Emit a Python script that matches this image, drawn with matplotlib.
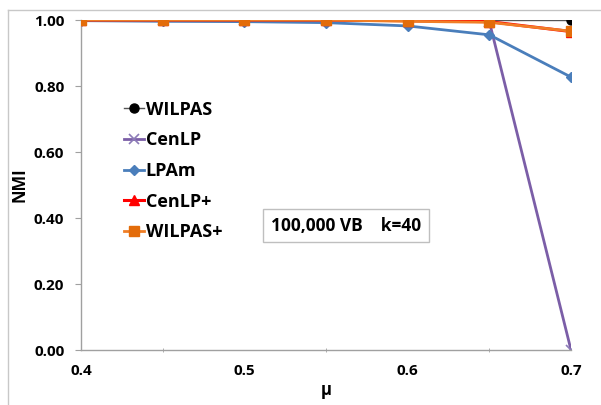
import matplotlib
matplotlib.use("Agg")
import matplotlib.pyplot as plt
from matplotlib.lines import Line2D

mu = [0.4, 0.45, 0.5, 0.55, 0.6, 0.65, 0.7]
wilpas = [1.0, 1.0, 1.0, 1.0, 1.0, 1.0, 1.0]
cenlp = [1.0, 1.0, 1.0, 1.0, 0.998, 0.995, 0.0]
lpam = [0.998, 0.996, 0.995, 0.992, 0.982, 0.955, 0.827]
cenlp_plus = [1.0, 1.0, 1.0, 1.0, 0.998, 0.995, 0.965]
wilpas_plus = [1.0, 1.0, 1.0, 1.0, 0.996, 0.993, 0.966]
xticks = [0.4, 0.5, 0.6, 0.7]
yticks = [0.0, 0.2, 0.4, 0.6, 0.8, 1.0]

plt.rcParams['font.family'] = ['Open Sans', 'DejaVu Sans']
plt.rcParams['font.weight'] = 'bold'

fig = plt.figure(figsize=(6.01, 4.05), dpi=100)
ax = fig.add_axes([81/601, 55/405, 490/601, 330/405])

ax.plot(mu, wilpas, color='#555555', lw=1.0, marker='o', ms=6.5, mfc='black', mec='black', label='WILPAS', zorder=3)
ax.plot(mu, cenlp, color='#7B5EA7', lw=2.0, marker='x', ms=7, mec='#8C7BB8', mew=1.2, label='CenLP', zorder=2)
ax.plot(mu, lpam, color='#4A7EBB', lw=2.0, marker='D', ms=5, mfc='#4A7EBB', mec='#4A7EBB', label='LPAm', zorder=2)
ax.plot(mu, cenlp_plus, color='#FF0000', lw=2.2, marker='^', ms=6.5, mfc='#FF0000', mec='#FF0000', label='CenLP+', zorder=4)
ax.plot(mu, wilpas_plus, color='#F07E26', lw=2.0, marker='s', ms=6.5, mfc='#E36C0A', mec='#E36C0A', label='WILPAS+', zorder=5)

ax.set_xlim(0.4, 0.7)
ax.set_ylim(0.0, 1.0)
ax.set_xticks(xticks)
ax.set_xticklabels([f"{v:.1f}" for v in xticks], fontsize=11, fontweight='bold')
ax.set_xticks([0.45, 0.55, 0.65], minor=True)
ax.tick_params(axis='x', which='major', length=0, pad=10)
ax.tick_params(axis='x', which='minor', length=3, color='#A0A0A0', direction='inout')
ax.set_yticks(yticks)
ax.set_yticklabels([f"{v:.2f}" for v in yticks], fontsize=11, fontweight='bold')
ax.tick_params(axis='y', length=4, color='#A0A0A0', pad=8)

for s in ['top', 'right']:
    ax.spines[s].set_visible(False)
for s in ['left', 'bottom']:
    ax.spines[s].set_color('#A0A0A0')
    ax.spines[s].set_linewidth(1.0)

ax.set_xlabel('μ', fontsize=12, fontweight='bold', labelpad=2)
ax.set_ylabel('NMI', fontsize=12, fontweight='bold', labelpad=4)

leg = ax.legend(loc='upper left', bbox_to_anchor=(0.055, 0.805), frameon=False,
                handlelength=1.1, handletextpad=0.1, labelspacing=0.7,
                prop={'size': 13, 'weight': 'bold'})

ax.text(0.541, 0.377, '100,000 VB    k=40', transform=ax.transAxes, ha='center', va='center',
        fontsize=12.5, fontweight='bold',
        bbox=dict(boxstyle='square,pad=0.45', fc='white', ec='#BFBFBF', lw=1.0))

fig.add_artist(Line2D([8/601, 8/601], [0, 1 - 10/405], color='#C8C8C8', lw=1.0))
fig.add_artist(Line2D([8/601, 1], [1 - 10/405, 1 - 10/405], color='#C8C8C8', lw=1.0))

fig.savefig('out.png', dpi=100)
